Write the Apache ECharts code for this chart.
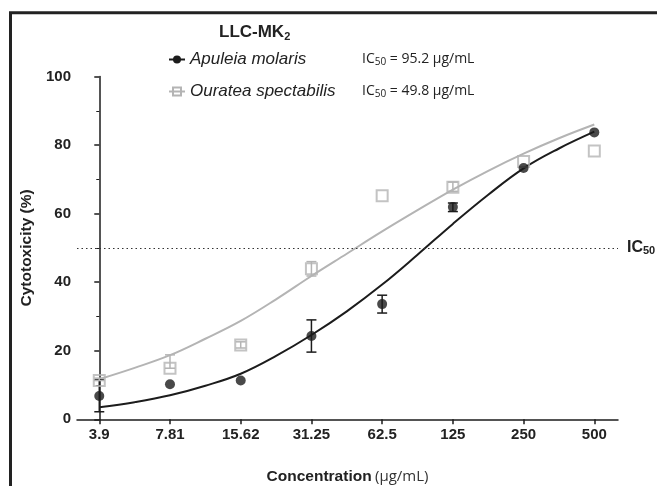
<!DOCTYPE html>
<html>
<head>
<meta charset="utf-8">
<script src="https://cdn.jsdelivr.net/npm/echarts@6/dist/echarts.min.js"></script>
<style>
  html, body { margin: 0; padding: 0; background: #fff; }
  #main { width: 657px; height: 486px; }
</style>
</head>
<body>
<div id="main"></div>
<script>
  // concentration steps (two-fold dilutions), tick labels in µg/mL
  var concLabels = ['3.9', '7.81', '15.62', '31.25', '62.5', '125', '250', '500'];
  var steps = [0, 1, 2, 3, 4, 5, 6, 7];

  // Apuleia molaris: mean and error bar ends (%)
  var apuleiaMean = [6.8, 10.2, 11.3, 24.3, 33.6, 61.9, 73.3, 83.7];
  var apuleiaLow  = [2.2, 10.2, 11.3, 19.6, 31.0, 60.6, 73.3, 83.7];
  var apuleiaHigh = [11.5, 10.2, 11.3, 29.0, 36.2, 63.1, 73.3, 83.7];

  // Ouratea spectabilis
  var ourateaMean = [11.3, 14.9, 21.7, 43.9, 65.2, 67.7, 75.2, 78.3];
  var ourateaLow  = [11.3, 14.9, 20.8, 41.8, 65.2, 66.5, 75.2, 78.3];
  var ourateaHigh = [12.0, 18.8, 22.6, 46.0, 65.2, 69.2, 75.2, 78.3];

  // fitted curves, every half step
  var fitSteps   = [0, 0.5, 1, 1.5, 2, 2.5, 3, 3.5, 4, 4.5, 5, 5.5, 6, 6.5, 7];
  var apuleiaFit = [3.5, 5.0, 7.0, 9.8, 13.3, 18.5, 24.6, 31.5, 39.3, 48.0, 57.0, 65.5, 73.2, 79.0, 83.9];
  var ourateaFit = [11.7, 15.0, 18.7, 23.5, 28.7, 35.0, 41.8, 48.3, 54.8, 61.0, 67.0, 72.5, 77.5, 82.0, 86.0];

  var ic50Values = ['95.2', '49.8'];

  var BLACK = '#1c1c1c', GRAY = '#b4b4b4';

  function pairs(xs, ys) {
    return xs.map(function (x, i) { return [x, ys[i]]; });
  }
  function bars(lo, hi) {
    return steps.map(function (x, i) { return [x, lo[i], hi[i]]; });
  }

  function errorBar(color) {
    return function (params, api) {
      var lo = api.value(1), hi = api.value(2);
      if (hi - lo < 0.05) return null;
      var p1 = api.coord([api.value(0), lo]);
      var p2 = api.coord([api.value(0), hi]);
      var w = 5;
      var st = { stroke: color, lineWidth: 1.5 };
      return {
        type: 'group',
        children: [
          { type: 'line', shape: { x1: p1[0], y1: p1[1], x2: p2[0], y2: p2[1] }, style: st },
          { type: 'line', shape: { x1: p1[0] - w, y1: p1[1], x2: p1[0] + w, y2: p1[1] }, style: st },
          { type: 'line', shape: { x1: p2[0] - w, y1: p2[1], x2: p2[0] + w, y2: p2[1] }, style: st }
        ]
      };
    };
  }

  var chart = echarts.init(document.getElementById('main'));

  var subRich = {
    n: { fontFamily: 'Liberation Sans', fontStyle: 'italic', fontSize: 17, color: '#222', width: 172 },
    i: { fontFamily: 'Open Sans', fontSize: 14, color: '#222' },
    s: { fontFamily: 'Open Sans', fontSize: 10, color: '#222', padding: [6, 0, 0, 0] }
  };

  var option = {
    animation: false,
    backgroundColor: '#fff',
    title: {
      text: '{a|LLC-MK}{b|2}',
      left: 214, top: 18,
      textStyle: {
        rich: {
          a: { fontFamily: 'Liberation Sans', fontWeight: 'bold', fontSize: 17, color: '#222' },
          b: { fontFamily: 'Liberation Sans', fontWeight: 'bold', fontSize: 11, color: '#222', padding: [8, 0, 0, 0] }
        }
      }
    },
    legend: {
      orient: 'vertical',
      left: 163, top: 46,
      itemWidth: 16, itemHeight: 10, itemGap: 15,
      data: ['Apuleia molaris', 'Ouratea spectabilis'],
      formatter: function (name) {
        var k = name === 'Apuleia molaris' ? 0 : 1;
        return '{n|' + name + '}{i|IC}{s|50}{i| = ' + ic50Values[k] + ' μg/mL}';
      },
      textStyle: { rich: subRich }
    },
    grid: { left: 77, right: 39, top: 76.5, bottom: 66.7, outerBoundsMode: 'none', containLabel: false },
    xAxis: {
      type: 'value',
      min: -0.315, max: 7.335,
      name: '{b|Concentration} {r|(μg/mL)}',
      nameLocation: 'middle', nameGap: 49,
      nameTextStyle: {
        rich: {
          b: { fontFamily: 'Liberation Sans', fontWeight: 'bold', fontSize: 15.5, color: '#222' },
          r: { fontFamily: 'Open Sans', fontSize: 15, color: '#333' }
        }
      },
      axisLine: { lineStyle: { color: BLACK, width: 1.5 } },
      axisTick: { customValues: steps, length: 5, lineStyle: { color: BLACK, width: 1.5 } },
      axisLabel: {
        customValues: steps,
        formatter: function (v) { return concLabels[Math.round(v)]; },
        fontFamily: 'Liberation Sans', fontWeight: 'bold', fontSize: 15, color: '#222', margin: 8
      },
      splitLine: { show: false }
    },
    yAxis: {
      type: 'value',
      min: 0, max: 100, interval: 20,
      name: 'Cytotoxicity (%)',
      nameLocation: 'middle', nameGap: 33,
      nameTextStyle: { fontFamily: 'Liberation Sans', fontWeight: 'bold', fontSize: 15.5, color: '#222' },
      axisLine: { show: true, lineStyle: { color: BLACK, width: 1.5 } },
      axisTick: { show: true, length: 5, lineStyle: { color: BLACK, width: 1.5 } },
      minorTick: { show: true, splitNumber: 2, length: 3, lineStyle: { color: BLACK, width: 1 } },
      axisLabel: { fontFamily: 'Liberation Sans', fontWeight: 'bold', fontSize: 15, color: '#222', margin: 6 },
      splitLine: { show: false }
    },
    series: [
      {
        name: 'Apuleia molaris',
        type: 'line',
        data: pairs(fitSteps, apuleiaFit),
        smooth: 0.4,
        showSymbol: false,
        symbol: 'circle',
        symbolSize: 9,
        itemStyle: { color: BLACK },
        lineStyle: { color: BLACK, width: 2 },
        z: 3,
        markLine: {
          silent: true,
          symbol: 'none',
          data: [{ yAxis: 50 }],
          lineStyle: { color: '#333', width: 1, type: [1.5, 3] },
          label: {
            position: 'end', distance: 9,
            formatter: '{a|IC}{b|50}',
            rich: {
              a: { fontFamily: 'Liberation Sans', fontWeight: 'bold', fontSize: 16, color: '#222' },
              b: { fontFamily: 'Liberation Sans', fontWeight: 'bold', fontSize: 11, color: '#222', padding: [7, 0, 0, 0] }
            }
          }
        }
      },
      {
        name: 'Ouratea spectabilis',
        type: 'line',
        data: pairs(fitSteps, ourateaFit),
        smooth: 0.4,
        showSymbol: false,
        symbol: 'rect',
        symbolSize: 10,
        itemStyle: { color: 'rgba(255,255,255,0)', borderColor: GRAY, borderWidth: 1.5 },
        lineStyle: { color: GRAY, width: 2 },
        z: 2
      },
      {
        type: 'custom',
        renderItem: errorBar(BLACK),
        data: bars(apuleiaLow, apuleiaHigh),
        encode: { x: 0, y: [1, 2] },
        z: 4
      },
      {
        type: 'custom',
        renderItem: errorBar(GRAY),
        data: bars(ourateaLow, ourateaHigh),
        encode: { x: 0, y: [1, 2] },
        z: 4
      },
      {
        name: 'Ouratea spectabilis',
        type: 'scatter',
        data: pairs(steps, ourateaMean),
        symbol: 'rect',
        symbolSize: 11,
        itemStyle: { color: 'rgba(255,255,255,0)', borderColor: GRAY, borderWidth: 2 },
        z: 5
      },
      {
        name: 'Apuleia molaris',
        type: 'scatter',
        data: pairs(steps, apuleiaMean),
        symbol: 'circle',
        symbolSize: 10,
        itemStyle: { color: BLACK },
        z: 6
      }
    ],
    graphic: [
      {
        type: 'polyline',
        shape: { points: [[10.5, 486], [10.5, 12.8], [657, 12.8]] },
        style: { stroke: '#222', lineWidth: 3, fill: null }
      }
    ]
  };

  chart.setOption(option);
</script>
</body>
</html>
